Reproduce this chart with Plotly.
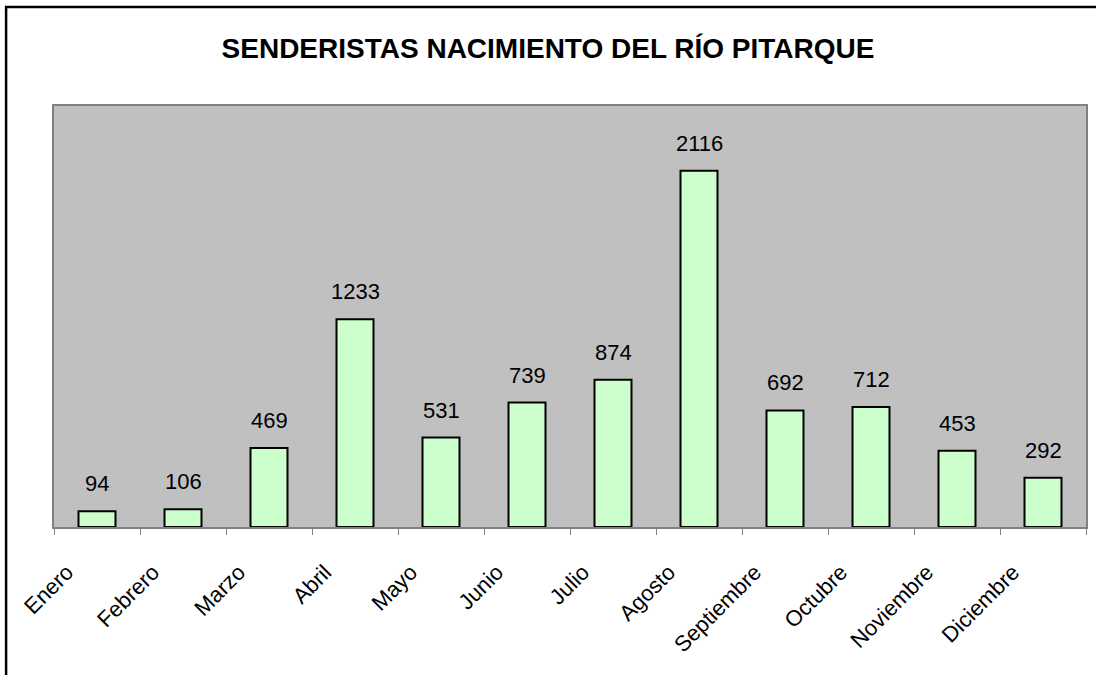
import plotly.graph_objects as go

# Monthly hikers at the source of the Pitarque river
meses = ["Enero", "Febrero", "Marzo", "Abril", "Mayo", "Junio", "Julio",
         "Agosto", "Septiembre", "Octubre", "Noviembre", "Diciembre"]
senderistas = [94, 106, 469, 1233, 531, 739, 874, 2116, 692, 712, 453, 292]

W, H = 1096, 675
L, R, T, B = 54, 8, 106, 148
FONT = "Liberation Sans, Arial"

fig = go.Figure()

fig.add_trace(go.Bar(
    x=meses,
    y=senderistas,
    marker=dict(color="#CCFFCC", line=dict(color="black", width=2)),
    showlegend=False,
    hoverinfo="x+y",
))

# value labels floating above each bar
for mes, v in zip(meses, senderistas):
    fig.add_annotation(
        x=mes, y=v, text=str(v), showarrow=False,
        yanchor="bottom", yshift=13,
        font=dict(family=FONT, size=22, color="black"),
    )

# outer chart frame (only top and left edges fall inside the picture)
pw, ph = W - L - R, H - T - B
fig.add_shape(
    type="rect", xref="paper", yref="paper",
    x0=(6 - L) / pw, x1=(W + 20 - L) / pw,
    y0=(H - B - (H + 20)) / ph, y1=(H - B - 7) / ph,
    line=dict(color="black", width=2.5), fillcolor="rgba(0,0,0,0)",
)

fig.update_layout(
    width=W, height=H,
    margin=dict(l=L, r=R, t=T, b=B),
    paper_bgcolor="white",
    plot_bgcolor="#C0C0C0",
    bargap=0.57,
    title=dict(
        text="<b>SENDERISTAS NACIMIENTO DEL RÍO PITARQUE</b>",
        x=0.5, xanchor="center", xref="container",
        y=1 - 48 / H, yanchor="middle",
        font=dict(family=FONT, size=28, color="black"),
    ),
    font=dict(family=FONT, color="black"),
)

fig.update_xaxes(
    tickangle=-45,
    tickfont=dict(size=22, color="black"),
    ticks="outside", tickson="boundaries", ticklen=6, tickcolor="#808080",
    ticklabelstandoff=22, ticklabelshift=-30,
    showline=True, linecolor="#808080", linewidth=1.5, mirror=True,
    showgrid=False,
)
fig.update_yaxes(
    range=[0, 2500],
    showticklabels=False, showgrid=False, zeroline=False,
    showline=True, linecolor="#808080", linewidth=1.5, mirror=True,
    ticks="",
)

fig.write_html("out.html", config={"displayModeBar": False},
               post_script="document.body.style.margin='0px';")
